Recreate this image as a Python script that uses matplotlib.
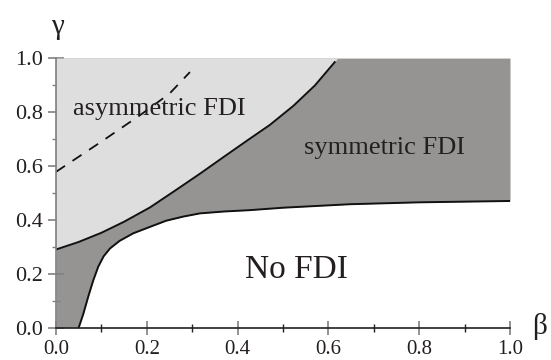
import matplotlib
matplotlib.use("Agg")
import matplotlib.pyplot as plt
from matplotlib.ticker import MultipleLocator, FormatStrFormatter

# Boundary between asymmetric and symmetric FDI
upper_beta = [0.0, 0.05, 0.10, 0.15, 0.207, 0.262, 0.317, 0.37, 0.427, 0.471, 0.523, 0.57, 0.614, 0.62]
upper_gamma = [0.29, 0.318, 0.352, 0.393, 0.446, 0.508, 0.571, 0.634, 0.701, 0.752, 0.823, 0.898, 0.985, 1.0]

# Boundary between symmetric FDI and no FDI
lower_beta = [0.0, 0.05, 0.06, 0.071, 0.082, 0.093, 0.105, 0.119, 0.14, 0.17, 0.207, 0.243, 0.28, 0.317, 0.37, 0.427, 0.50, 0.648, 0.80, 1.0]
lower_gamma = [0.0, 0.0, 0.05, 0.115, 0.175, 0.226, 0.265, 0.294, 0.322, 0.350, 0.374, 0.397, 0.412, 0.424, 0.431, 0.436, 0.445, 0.458, 0.465, 0.470]

# Dashed line
dash_beta = [0.0, 0.10, 0.185, 0.25, 0.295]
dash_gamma = [0.578, 0.690, 0.788, 0.868, 0.948]

plt.rcParams['font.family'] = 'serif'
plt.rcParams['font.serif'] = ['Liberation Serif', 'DejaVu Serif']

fig = plt.figure(figsize=(5.51, 3.60), dpi=100)
ax = fig.add_axes([0.1016, 0.0897, 0.824, 0.749])

dark = '#959493'
light = '#dedede'
ink = '#231f20'

ax.fill_between(lower_beta, lower_gamma, 1.0, color=dark, lw=0, zorder=1)
ax.fill_between(upper_beta, upper_gamma, 1.0, color=light, lw=0, zorder=2)
ax.plot(upper_beta[:-1], upper_gamma[:-1], color='#111111', lw=1.4, zorder=3)
ax.plot(lower_beta[1:], lower_gamma[1:], color='#111111', lw=1.4, zorder=3)
ax.plot(dash_beta, dash_gamma, color='#111111', lw=1.3, dashes=(6, 5), zorder=3)

ax.text(0.227, 0.81, 'asymmetric FDI', fontsize=19, ha='center', va='center', color=ink, zorder=4)
ax.text(0.724, 0.665, 'symmetric FDI', fontsize=19, ha='center', va='center', color=ink, zorder=4)
ax.text(0.53, 0.214, 'No FDI', fontsize=24, ha='center', va='center', color=ink, zorder=4)

ax.set_xlim(0, 1.0)
ax.set_ylim(0, 1.0)

for s in ['top', 'right']:
    ax.spines[s].set_visible(False)
ax.spines['left'].set_color('#808080')
ax.spines['bottom'].set_color(ink)
ax.spines['left'].set_linewidth(1.2)
ax.spines['bottom'].set_linewidth(1.2)
ax.spines['left'].set_zorder(5)
ax.spines['bottom'].set_zorder(5)

ax.xaxis.set_major_locator(MultipleLocator(0.2))
ax.xaxis.set_minor_locator(MultipleLocator(0.1))
ax.yaxis.set_major_locator(MultipleLocator(0.2))
ax.yaxis.set_minor_locator(MultipleLocator(0.1))
ax.xaxis.set_major_formatter(FormatStrFormatter('%.1f'))
ax.yaxis.set_major_formatter(FormatStrFormatter('%.1f'))

ax.tick_params(axis='x', which='major', direction='inout', length=10, width=1.2, color='#808080', labelsize=15, pad=4, labelcolor=ink)
ax.tick_params(axis='x', which='minor', direction='inout', length=6, width=1.0, color=ink)
ax.tick_params(axis='y', which='major', direction='inout', length=11, width=1.2, color='#808080', labelsize=16, pad=4, labelcolor=ink)
ax.tick_params(axis='y', which='minor', direction='inout', length=6, width=1.0, color='#808080')

fig.text(57 / 551, 1 - 27 / 360, 'γ', fontsize=21, ha='center', va='center', color=ink)
fig.text(540 / 551, 1 - 327 / 360, 'β', fontsize=21, ha='center', va='center', color=ink)

fig.savefig('out.png', dpi=100)
